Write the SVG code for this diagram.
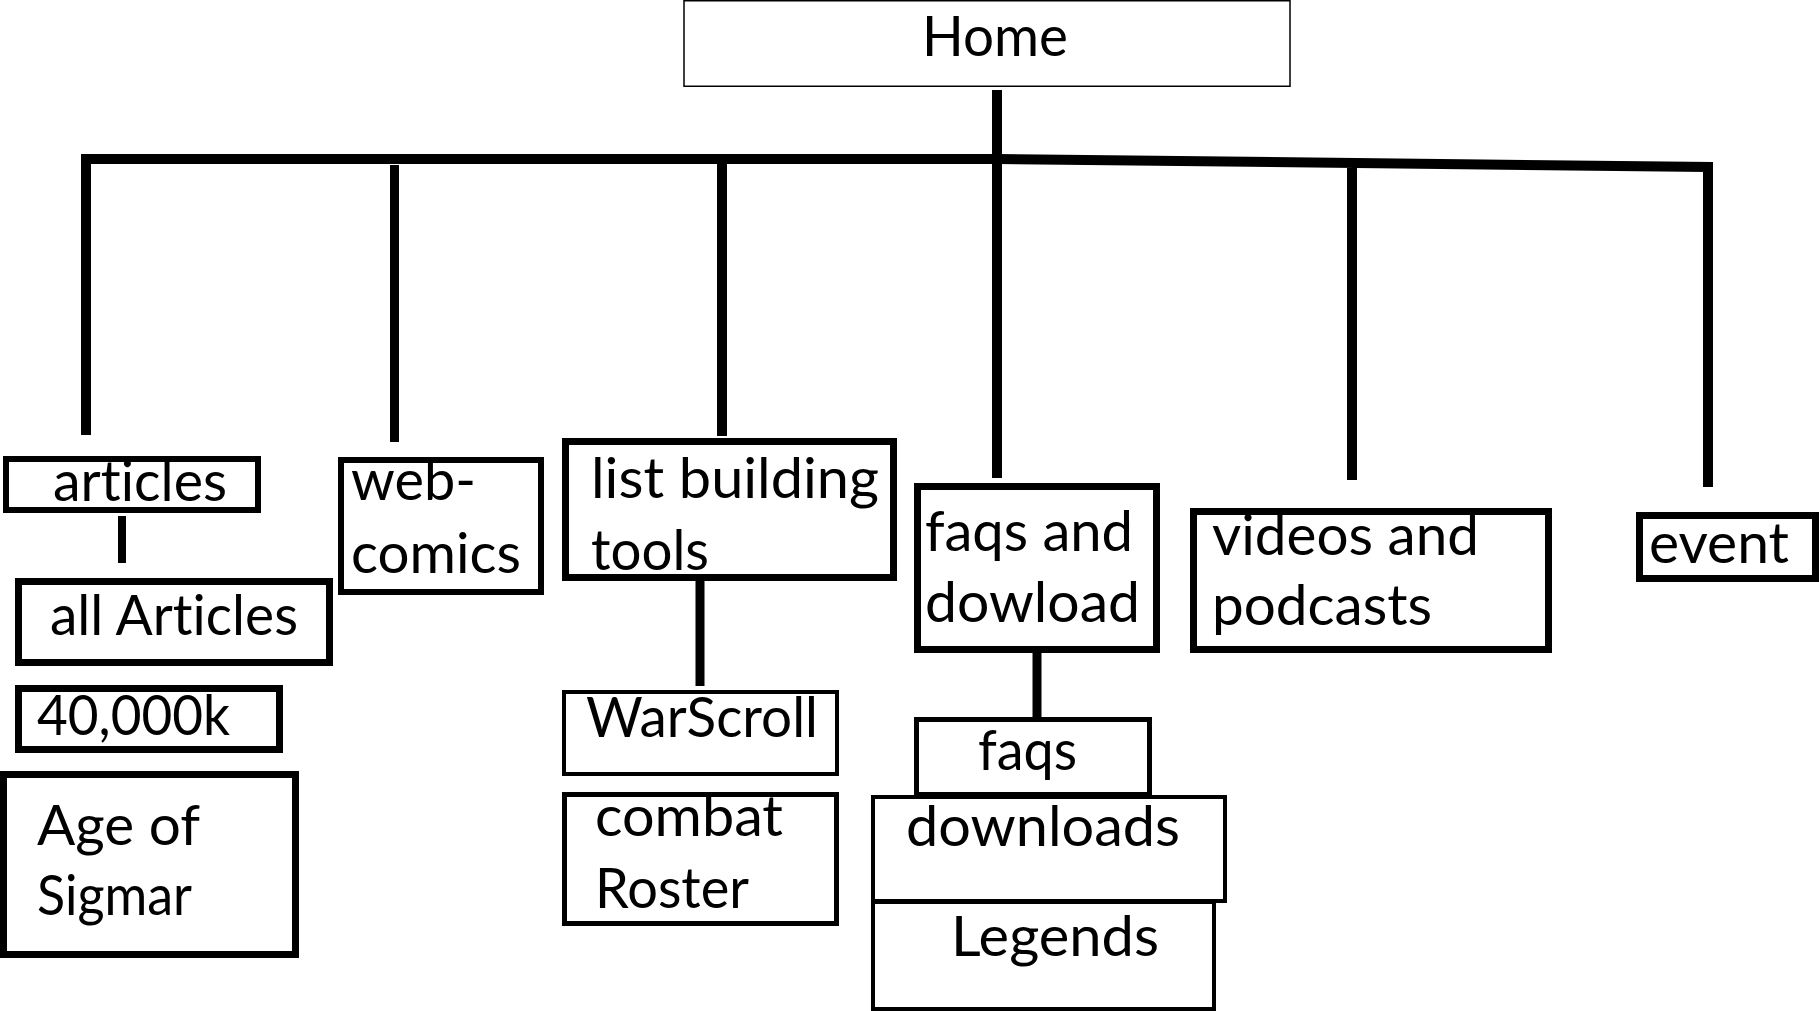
<svg xmlns="http://www.w3.org/2000/svg" width="1819" height="1011" viewBox="0 0 1819 1011">
<style>
.box{fill:#fff;stroke:#000}
.t{font-family:Lato,"Noto Sans","Open Sans",sans-serif;font-size:57px;fill:#000;font-variant-ligatures:none;font-feature-settings:"liga" 0,"dlig" 0}
.c{fill:none;stroke:#000;stroke-linejoin:miter}
</style>
<rect width="1819" height="1011" fill="#fff"/>
<g id="connectors">
<path class="c" stroke-width="10" d="M86,435 V159 H997 L1708,167 V487"/>
<line class="c" x1="997" y1="90" x2="997" y2="478" stroke-width="10"/>
<line class="c" x1="394.5" y1="165" x2="394.5" y2="442" stroke-width="9"/>
<line class="c" x1="722" y1="164" x2="722" y2="436" stroke-width="10"/>
<line class="c" x1="1352" y1="168" x2="1352" y2="480" stroke-width="10"/>
<line class="c" x1="122" y1="516" x2="122" y2="563" stroke-width="8"/>
<line class="c" x1="700" y1="581" x2="700" y2="686" stroke-width="9"/>
<line class="c" x1="1037" y1="650" x2="1037" y2="724" stroke-width="9"/>
</g>
<g id="home">
<rect class="box" x="684" y="0.75" width="606" height="85.5" stroke="#222" stroke-width="1.5"/>
<text class="t" x="922" y="56" style="font-size:56px" textLength="146" lengthAdjust="spacingAndGlyphs">Home</text>
</g>
<g id="articles">
<rect class="box" x="6" y="459" width="252" height="51" stroke-width="6"/>
<text class="t" x="53" y="501" textLength="174" lengthAdjust="spacingAndGlyphs">articles</text>
</g>
<g id="all-articles">
<rect class="box" x="18.5" y="581.5" width="311" height="81" stroke-width="7"/>
<text class="t" x="50" y="635" textLength="248" lengthAdjust="spacingAndGlyphs">all Articles</text>
</g>
<g id="forty-k">
<rect class="box" x="18.5" y="688.5" width="261" height="61" stroke-width="7"/>
<text class="t" x="37" y="735" textLength="193" lengthAdjust="spacingAndGlyphs">40,000k</text>
</g>
<g id="age-of-sigmar">
<rect class="box" x="3.5" y="774.5" width="292" height="180" stroke-width="7"/>
<text class="t" x="37" y="845" textLength="163" lengthAdjust="spacingAndGlyphs">Age of</text>
<text class="t" x="37" y="915" textLength="155" lengthAdjust="spacingAndGlyphs">Sigmar</text>
</g>
<g id="web-comics">
<rect class="box" x="341" y="460" width="200" height="132" stroke-width="6"/>
<text class="t" x="351" y="500" textLength="125" lengthAdjust="spacingAndGlyphs">web-</text>
<text class="t" x="351" y="573" textLength="170" lengthAdjust="spacingAndGlyphs">comics</text>
</g>
<g id="list-building-tools">
<rect class="box" x="565.5" y="441.5" width="328" height="136" stroke-width="7"/>
<text class="t" x="591" y="498" textLength="288" lengthAdjust="spacingAndGlyphs">list building</text>
<text class="t" x="591" y="570" textLength="118" lengthAdjust="spacingAndGlyphs">tools</text>
</g>
<g id="warscroll">
<rect class="box" x="564" y="692" width="273" height="82" stroke-width="4"/>
<text class="t" x="586" y="737" textLength="232" lengthAdjust="spacingAndGlyphs">WarScroll</text>
</g>
<g id="combat-roster">
<rect class="box" x="564.5" y="794.5" width="272" height="129" stroke-width="5"/>
<text class="t" x="595" y="836" textLength="188" lengthAdjust="spacingAndGlyphs">combat</text>
<text class="t" x="595" y="908" textLength="154" lengthAdjust="spacingAndGlyphs">Roster</text>
</g>
<g id="faqs-and-dowload">
<rect class="box" x="917.5" y="486.5" width="239" height="163" stroke-width="7"/>
<text class="t" x="925" y="551" textLength="208" lengthAdjust="spacingAndGlyphs">faqs and</text>
<text class="t" x="925" y="622" textLength="215" lengthAdjust="spacingAndGlyphs">dowload</text>
</g>
<g id="legends">
<rect class="box" x="873" y="902" width="341" height="107" stroke-width="4"/>
<text class="t" x="951" y="956" textLength="208" lengthAdjust="spacingAndGlyphs">Legends</text>
</g>
<g id="downloads">
<rect class="box" x="873" y="797" width="352" height="104" stroke-width="4"/>
<text class="t" x="906" y="846" textLength="274" lengthAdjust="spacingAndGlyphs">downloads</text>
</g>
<g id="faqs">
<rect class="box" x="916.5" y="719.5" width="233" height="75" stroke-width="5"/>
<text class="t" x="978" y="770" textLength="99" lengthAdjust="spacingAndGlyphs">faqs</text>
</g>
<g id="videos-and-podcasts">
<rect class="box" x="1193.5" y="511.5" width="355" height="138" stroke-width="7"/>
<text class="t" x="1212" y="555" textLength="267" lengthAdjust="spacingAndGlyphs">videos and</text>
<text class="t" x="1212" y="625" textLength="220" lengthAdjust="spacingAndGlyphs">podcasts</text>
</g>
<g id="event">
<rect class="box" x="1639.5" y="515.5" width="176" height="63" stroke-width="7"/>
<text class="t" x="1649" y="563" textLength="140" lengthAdjust="spacingAndGlyphs">event</text>
</g>
</svg>
